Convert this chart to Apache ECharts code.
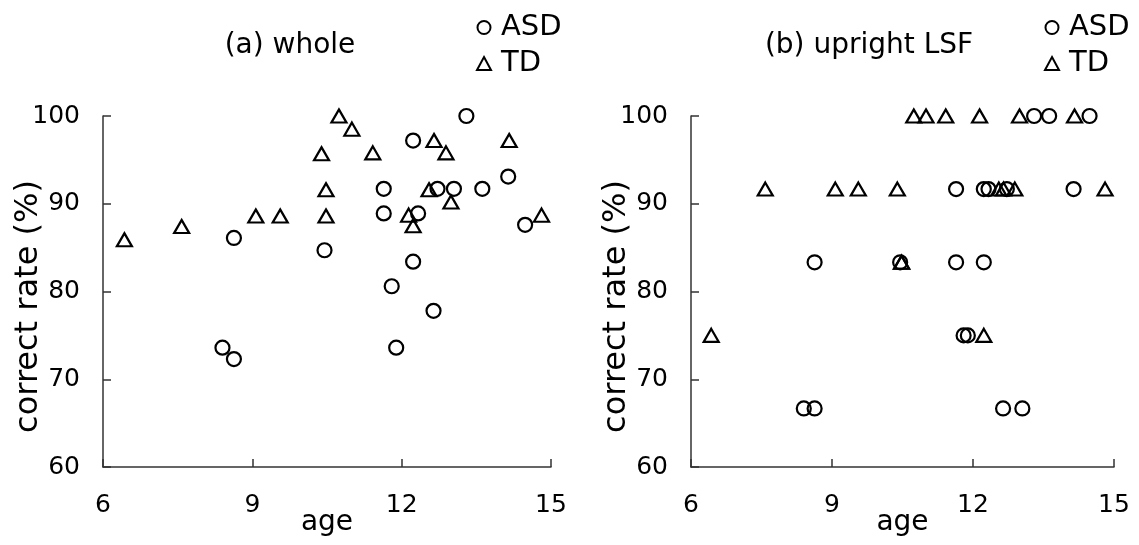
<!DOCTYPE html>
<html>
<head>
<meta charset="utf-8">
<title>correct rate by age</title>
<script src="https://cdn.jsdelivr.net/npm/echarts@6/dist/echarts.min.js"></script>
<style>
  html, body { margin: 0; padding: 0; background: #fff; }
  #main { width: 1139px; height: 545px; }
</style>
</head>
<body>
<div id="main"></div>
<script>
// ages of the children (same in both panels)
const asdAge = [8.40, 8.63, 8.63, 10.45, 11.64, 11.64, 11.80, 11.89, 12.23, 12.23, 12.33, 12.64, 12.72, 13.05, 13.30, 13.62, 14.14, 14.48]
const tdAge = [6.43, 7.58, 9.07, 9.56, 10.39, 10.48, 10.48, 10.74, 11.00, 11.42, 12.14, 12.23, 12.55, 12.65, 12.89, 12.99, 14.16, 14.81]
// (a) whole
const asdWhole = [73.6, 72.3, 86.1, 84.7, 91.7, 88.9, 80.6, 73.6, 97.2, 83.4, 88.9, 77.8, 91.7, 91.7, 100, 91.7, 93.1, 87.6]
const tdWhole = [85.9, 87.4, 88.6, 88.6, 95.7, 91.6, 88.6, 100, 98.5, 95.8, 88.7, 87.5, 91.6, 97.2, 95.8, 90.2, 97.2, 88.7]
// (b) upright LSF
const asdUpright = [66.67, 66.67, 83.33, 83.33, 91.67, 83.33, 75, 75, 91.67, 83.33, 91.67, 66.67, 91.67, 66.67, 100, 100, 91.67, 100]
const tdUpright = [75, 91.67, 91.67, 91.67, 91.67, 83.33, 83.33, 100, 100, 100, 100, 75, 91.67, 91.67, 91.67, 100, 100, 91.67]
// panel titles and axis ticks
const panelTitles = ['(a) whole', '(b) upright LSF']
const ageTicks = { min: 6, max: 15, interval: 3 }
const rateTicks = { min: 60, max: 100, interval: 10 }

const FONT = 'DejaVu Sans'
const pairs = (xs, ys) => xs.map((x, i) => [x, ys[i]])

const chart = echarts.init(document.getElementById('main'))

// fixed plot areas, no auto shrinking to fit labels
const grids = [
  { left: 103, top: 116, width: 448, height: 351, outerBoundsMode: 'none' },
  { left: 691, top: 116, width: 423, height: 351, outerBoundsMode: 'none' }
]

const xAxis = grids.map((g, i) => ({
  type: 'value',
  gridIndex: i,
  min: ageTicks.min,
  max: ageTicks.max,
  interval: ageTicks.interval,
  name: 'age',
  nameLocation: 'middle',
  nameGap: 42,
  nameMoveOverlap: false,
  nameTextStyle: { fontFamily: FONT, fontSize: 28, color: '#000' },
  axisLine: { lineStyle: { color: '#333', width: 1.5 } },
  axisTick: { inside: true, length: 8, lineStyle: { color: '#333', width: 1.5 } },
  axisLabel: { margin: 26, fontFamily: FONT, fontSize: 25, color: '#000' },
  splitLine: { show: false }
}))

const yAxis = grids.map((g, i) => ({
  type: 'value',
  gridIndex: i,
  min: rateTicks.min,
  max: rateTicks.max,
  interval: rateTicks.interval,
  name: 'correct rate (%)',
  nameLocation: 'middle',
  nameGap: 58,
  nameMoveOverlap: false,
  nameTextStyle: { fontFamily: FONT, fontSize: 32, color: '#000', padding: [0, 30, 0, 0] },
  axisLine: { lineStyle: { color: '#333', width: 1.5 } },
  axisTick: { inside: true, length: 8, lineStyle: { color: '#333', width: 1.5 } },
  axisLabel: { margin: 23, fontFamily: FONT, fontSize: 25, color: '#000' },
  splitLine: { show: false }
}))

// hollow markers, drawn fully opaque
const circleStyle = { color: 'transparent', borderColor: '#000', borderWidth: 2.2, opacity: 1 }
const triStyle = { color: 'transparent', borderColor: '#000', borderWidth: 2.2, opacity: 1 }

const series = [
  { name: 'ASD', type: 'scatter', xAxisIndex: 0, yAxisIndex: 0, symbol: 'circle', symbolSize: 14, itemStyle: circleStyle, data: pairs(asdAge, asdWhole) },
  { name: 'TD', type: 'scatter', xAxisIndex: 0, yAxisIndex: 0, symbol: 'triangle', symbolSize: [15, 13], itemStyle: triStyle, data: pairs(tdAge, tdWhole) },
  { name: 'ASD', type: 'scatter', xAxisIndex: 1, yAxisIndex: 1, symbol: 'circle', symbolSize: 14, itemStyle: circleStyle, data: pairs(asdAge, asdUpright) },
  { name: 'TD', type: 'scatter', xAxisIndex: 1, yAxisIndex: 1, symbol: 'triangle', symbolSize: [15, 13], itemStyle: triStyle, data: pairs(tdAge, tdUpright) }
]

const legendAt = [471, 1039]
const legend = legendAt.map(left => ({
  orient: 'vertical',
  left: left,
  top: 8,
  itemWidth: 14,
  itemHeight: 13,
  itemGap: 7,
  selectedMode: false,
  data: ['ASD', 'TD'],
  textStyle: { fontFamily: FONT, fontSize: 29, color: '#000', padding: [0, 0, 0, 5] }
}))

const titleAt = [290, 869]
const title = panelTitles.map((t, i) => ({
  text: t,
  left: titleAt[i],
  top: 32,
  textAlign: 'center',
  padding: 0,
  textStyle: { fontFamily: FONT, fontSize: 28, fontWeight: 'normal', color: '#000' }
}))

chart.setOption({
  animation: false,
  title: title,
  legend: legend,
  grid: grids,
  xAxis: xAxis,
  yAxis: yAxis,
  series: series
})
</script>
</body>
</html>
